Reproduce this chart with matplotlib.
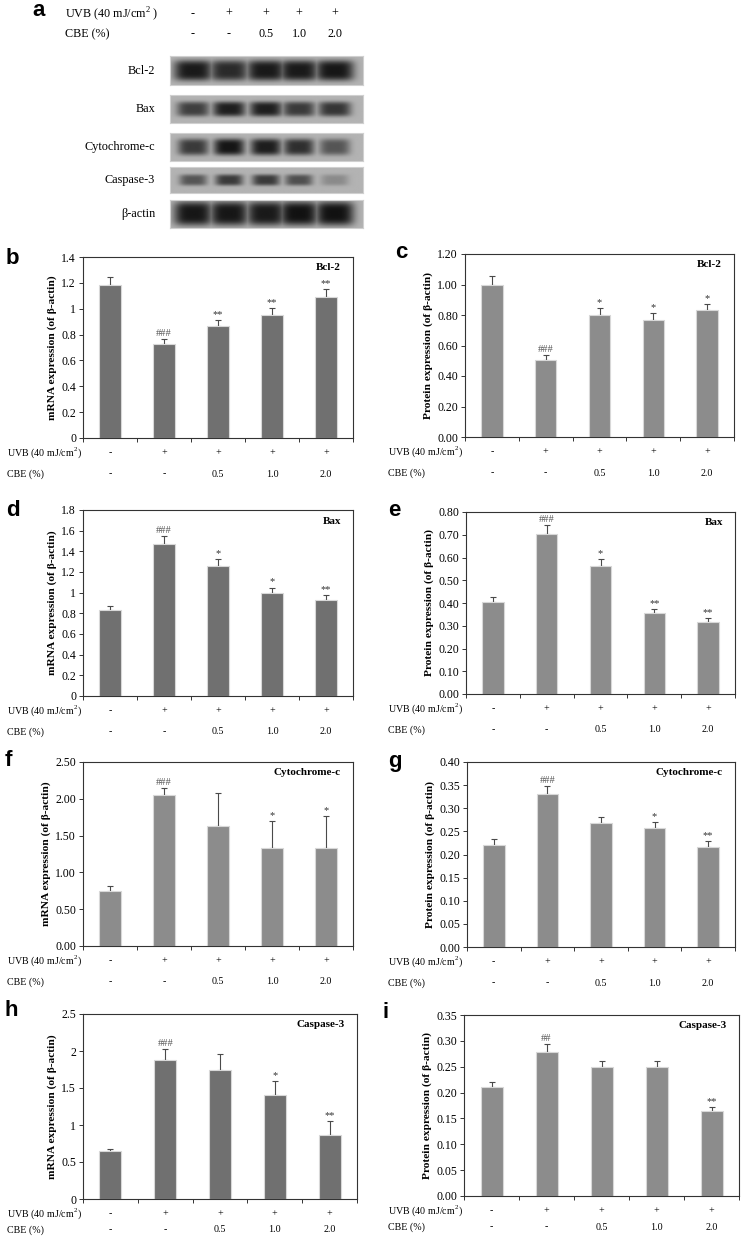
import numpy as np
import matplotlib.pyplot as plt

plt.rcParams['font.family'] = ['Liberation Serif', 'DejaVu Serif']
plt.rcParams['mathtext.fontset'] = 'custom'
plt.rcParams['mathtext.rm'] = 'Liberation Serif'

W, H = 742, 1237

# ---- data ----
uvb = ['-', '+', '+', '+', '+']
cbe = ['-', '-', '0.5', '1.0', '2.0']

blot_names = ['Bcl-2', 'Bax', 'Cytochrome-c', 'Caspase-3', 'β-actin']
# band darkness (0 = none, 1 = black)
blot_bcl2 = [0.95, 0.85, 0.95, 0.95, 0.97]
blot_bax = [0.72, 0.92, 0.92, 0.75, 0.78]
blot_cytc = [0.75, 0.98, 0.93, 0.82, 0.58]
blot_casp3 = [0.58, 0.75, 0.75, 0.62, 0.25]
blot_actin = [0.97, 0.97, 0.95, 1.0, 1.0]

bcl2_mrna = [1.18, 0.725, 0.865, 0.955, 1.09]
bcl2_mrna_err = [0.065, 0.04, 0.045, 0.05, 0.06]
bcl2_prot = [1.00, 0.505, 0.80, 0.77, 0.83]
bcl2_prot_err = [0.055, 0.03, 0.045, 0.042, 0.045]
bax_mrna = [0.83, 1.47, 1.26, 1.0, 0.925]
bax_mrna_err = [0.045, 0.08, 0.065, 0.05, 0.05]
bax_prot = [0.405, 0.705, 0.563, 0.355, 0.317]
bax_prot_err = [0.023, 0.037, 0.029, 0.019, 0.018]
cytc_mrna = [0.745, 2.05, 1.635, 1.335, 1.325]
cytc_mrna_err = [0.07, 0.095, 0.44, 0.365, 0.44]
cytc_prot = [0.221, 0.330, 0.268, 0.257, 0.217]
cytc_prot_err = [0.012, 0.018, 0.014, 0.013, 0.012]
casp3_mrna = [0.65, 1.875, 1.745, 1.405, 0.865]
casp3_mrna_err = [0.02, 0.155, 0.215, 0.195, 0.19]
casp3_prot = [0.210, 0.279, 0.249, 0.249, 0.165]
casp3_prot_err = [0.011, 0.015, 0.013, 0.013, 0.008]

sig_bcl2_mrna = ['', '###', '**', '**', '**']
sig_bcl2_prot = ['', '###', '*', '*', '*']
sig_bax_mrna = ['', '###', '*', '*', '**']
sig_bax_prot = ['', '###', '*', '**', '**']
sig_cytc_mrna = ['', '###', '', '*', '*']
sig_cytc_prot = ['', '###', '', '*', '**']
sig_casp3_mrna = ['', '###', '', '*', '**']
sig_casp3_prot = ['', '##', '', '', '**']


def fx(x):
    return x / W


def fy(y):
    return 1 - y / H


def add_axes_px(x0, y0, x1, y1):
    return fig.add_axes([fx(x0), fy(y1), fx(x1) - fx(x0), (y1 - y0) / H])


fig = plt.figure(figsize=(W / 100, H / 100), dpi=100)

# ---- panel a: blot ----
fig.text(fx(32), fy(10), 'a', family='Liberation Sans', weight='bold', fontsize=16, va='center', ha='left')
fig.text(fx(65), fy(14), 'UVB (40 mJ/cm$^2$ )', fontsize=8.7, va='center')
fig.text(fx(65), fy(34), 'CBE (%)', fontsize=8.7, va='center')
lane_px = [193, 229, 266, 299, 335]
for xp, u, c in zip(lane_px, uvb, cbe):
    fig.text(fx(xp), fy(14), u, fontsize=8.7, ha='center', va='center')
    fig.text(fx(xp), fy(34), c, fontsize=8.7, ha='center', va='center')

strips = [(56, 85), (95, 123), (133, 161), (167, 193), (200, 228)]
blots = [blot_bcl2, blot_bax, blot_cytc, blot_casp3, blot_actin]
band_h = [0.36, 0.27, 0.3, 0.22, 0.42]
band_w = [0.1, 0.085, 0.08, 0.072, 0.1]
sx0, sx1 = 170, 363
xs = np.linspace(0, 1, 240)
for (y0, y1), name, dark, bh, bw in zip(strips, blot_names, blots, band_h, band_w):
    ax = add_axes_px(sx0, y0, sx1, y1)
    ys = np.linspace(0, 1, 40)
    X, Y = np.meshgrid(xs, ys)
    d = np.zeros_like(X)
    for xp, v in zip(lane_px, dark):
        c = (xp - sx0) / (sx1 - sx0)
        d = np.maximum(d, v * np.exp(-((X - c) / bw) ** 4) * np.exp(-((Y - 0.5) / bh) ** 4))
    img = 0.70 * (1 - 0.9 * d)
    ax.imshow(img, cmap='gray', vmin=0, vmax=1, aspect='auto', extent=[0, 1, 0, 1])
    for s in ax.spines.values():
        s.set_color('#d0d0d0')
    ax.set_xticks([])
    ax.set_yticks([])
    fig.text(fx(155), fy((y0 + y1) / 2), name, fontsize=8.8, ha='right', va='center')


# ---- bar panels ----
def bar_panel(box, letter, letter_xy, vals, errs, sig, title, ylabel, ylim, step, fmt, color, lab_x, row2=36):
    x0, y0, x1, y1 = box
    ax = add_axes_px(x0, y0, x1, y1)
    pos = np.arange(len(vals))
    ax.bar(pos, vals, width=0.4, color=color, edgecolor='#d8d8d8', linewidth=0.8, zorder=2)
    ax.errorbar(pos, vals, yerr=[np.zeros(len(errs)), errs], fmt='none', ecolor='#4a4a4a',
                elinewidth=0.8, capsize=2.5, capthick=0.8, zorder=1)
    ax.set_xlim(-0.5, len(vals) - 0.5)
    ax.set_ylim(*ylim)
    ticks = np.arange(ylim[0], ylim[1] + step / 2, step)
    ax.set_yticks(ticks)
    ax.set_yticklabels([fmt(t) for t in ticks], fontsize=8.5)
    ax.set_xticks(np.arange(-0.5, len(vals), 1.0))
    ax.set_xticklabels([])
    ax.tick_params(direction='out', length=3, width=0.7, color='#333333', pad=2)
    for s in ax.spines.values():
        s.set_linewidth(0.8)
        s.set_color('#333333')
    ax.set_ylabel(ylabel, fontsize=8.2, weight='bold', labelpad=3)
    ax.text(0.955, 0.965, title, transform=ax.transAxes, ha='right', va='top', fontsize=8, weight='bold')
    rng = ylim[1] - ylim[0]
    for p, v, e, s in zip(pos, vals, errs, sig):
        if s:
            ax.text(p, v + e + rng * 0.005, s, ha='center', va='bottom', fontsize=7.5,
                    color='#555555' if '#' in s else '#333333')
    fig.text(fx(letter_xy[0]), fy(letter_xy[1]), letter, family='Liberation Sans', weight='bold',
             fontsize=16, va='center', ha='left')
    bx = [x0 + (x1 - x0) * (i + 0.5) / len(vals) for i in range(len(vals))]
    fig.text(fx(lab_x), fy(y1 + 15), 'UVB (40 mJ/cm$^2$)', fontsize=7.2, va='center')
    fig.text(fx(lab_x), fy(y1 + row2), 'CBE (%)', fontsize=7.2, va='center')
    for xp, u, c in zip(bx, uvb, cbe):
        fig.text(fx(xp), fy(y1 + 15), u, fontsize=7.2, ha='center', va='center')
        fig.text(fx(xp), fy(y1 + row2), c, fontsize=7.2, ha='center', va='center')
    return ax


def f_plain(t):
    s = '%.1f' % t
    if s.endswith('.0'):
        s = s[:-2]
    return s


def f2(t):
    return '%.2f' % t


dark = '#707070'
light = '#8c8c8c'
mrna = 'mRNA expression (of β-actin)'
prot = 'Protein expression (of β-actin)'

bar_panel((83, 257, 353, 438), 'b', (6, 259), bcl2_mrna, bcl2_mrna_err, sig_bcl2_mrna, 'Bcl-2', mrna,
          (0, 1.4), 0.2, f_plain, dark, 7)
bar_panel((465, 254, 734, 437), 'c', (395, 252), bcl2_prot, bcl2_prot_err, sig_bcl2_prot, 'Bcl-2', prot,
          (0, 1.2), 0.2, f2, light, 388)
bar_panel((83, 510, 353, 696), 'd', (6, 511), bax_mrna, bax_mrna_err, sig_bax_mrna, 'Bax', mrna,
          (0, 1.8), 0.2, f_plain, dark, 7)
bar_panel((466, 512, 735, 694), 'e', (388, 511), bax_prot, bax_prot_err, sig_bax_prot, 'Bax', prot,
          (0, 0.8), 0.1, f2, light, 388)
bar_panel((83, 762, 353, 946), 'f', (5, 761), cytc_mrna, cytc_mrna_err, sig_cytc_mrna, 'Cytochrome-c', mrna,
          (0, 2.5), 0.5, f2, light, 7)
bar_panel((467, 762, 735, 947), 'g', (388, 762), cytc_prot, cytc_prot_err, sig_cytc_prot, 'Cytochrome-c', prot,
          (0, 0.4), 0.05, f2, light, 388)
bar_panel((83, 1014, 357, 1199), 'h', (5, 1011), casp3_mrna, casp3_mrna_err, sig_casp3_mrna, 'Caspase-3', mrna,
          (0, 2.5), 0.5, f_plain, dark, 7, row2=31)
bar_panel((464, 1015, 739, 1196), 'i', (382, 1013), casp3_prot, casp3_prot_err, sig_casp3_prot, 'Caspase-3', prot,
          (0, 0.35), 0.05, f2, light, 388, row2=31)

fig.savefig('out.png', dpi=100)
